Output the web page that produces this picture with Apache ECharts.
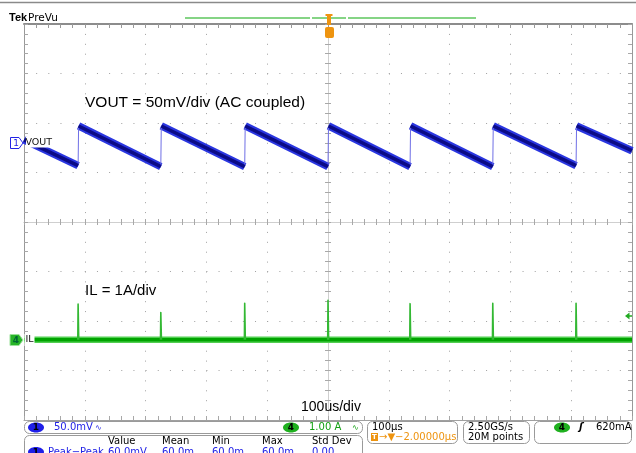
<!DOCTYPE html>
<html><head><meta charset="utf-8">
<script src="https://cdn.jsdelivr.net/npm/echarts@6/dist/echarts.min.js"></script>
<style>html,body{margin:0;padding:0;background:#fff}#c{width:636px;height:453px}</style>
</head><body><div id="c"></div>
<script>
// ---- data (time in µs relative to trigger) ----
const riseTimes  = [-411, -275, -137, 0, 135, 271, 408];   // VOUT step / IL spike times
const voutPeak   = [17, 17, 17, 17, 17, 17, 17];           // mV just after each step
const voutValley = [-23, -24, -24, -24, -24, -24, -23];    // mV just before each step
const voutStart  = 3;     // mV at left edge
const voutEnd    = -8;    // mV at right edge
const ilSpike    = [0.72, 0.55, 0.74, 0.80, 0.73, 0.74, 0.74]; // A
const ilBase     = [0, 0];                                  // A at left / right edge
const timeRange  = [-500, 500];
const ch1Scale = 50, ch1Pos = 1.6;    // mV/div, div offset of ground
const ch4Scale = 1,  ch4Pos = -2.38;  // A/div
const measHeader = ['Value', 'Mean', 'Min', 'Max', 'Std Dev'];
const measRow    = ['60.0mV', '60.0m', '60.0m', '60.0m', '0.00'];

const v = mv => mv / ch1Scale + ch1Pos;
const a = amp => amp / ch4Scale + ch4Pos;

const series = [];
function line(data, color, width, z) {
  series.push({type:'line', data, showSymbol:false, symbol:'none', silent:true,
    xAxisIndex:0, yAxisIndex:0, z,
    lineStyle:{color, width, cap:'butt', join:'round'}});
}
// VOUT ramps
const ramps = [];
ramps.push([[timeRange[0], v(voutStart)], [riseTimes[0], v(voutValley[0])]]);
for (let i = 0; i < riseTimes.length; i++) {
  const last = i === riseTimes.length - 1;
  ramps.push([[riseTimes[i] + 0.8, v(voutPeak[i])],
              [last ? timeRange[1] : riseTimes[i+1], v(last ? voutEnd : voutValley[i+1])]]);
}
ramps.forEach(r => { line(r, '#2a36e0', 7.5, 3); line(r, '#0b0b86', 3.5, 4); });
riseTimes.forEach((t, i) => line([[t, v(voutValley[i])], [t + 0.8, v(voutPeak[i])]], '#6f6fe6', 1, 3));
// IL
const base = [[timeRange[0], a(ilBase[0])], [timeRange[1], a(ilBase[1])]];
line(base, '#52cf52', 6.5, 3); line(base, '#00a400', 3.5, 4);
riseTimes.forEach((t, i) => line([[t - 0.5, a(0)], [t, a(ilSpike[i])], [t + 1, a(0)]], '#33b833', 1.6, 5));

const tickCol = '#a8a8a8';
function xa(extra) {
  return Object.assign({type:'value', min:timeRange[0], max:timeRange[1], interval:100,
    axisLabel:{show:false}, splitLine:{show:false},
    minorTick:{show:true, splitNumber:5, length:3, lineStyle:{color:tickCol}}}, extra);
}
function ya(extra) {
  return Object.assign({type:'value', min:-4, max:4, interval:1,
    axisLabel:{show:false}, splitLine:{show:false},
    minorTick:{show:true, splitNumber:5, length:3, lineStyle:{color:tickCol}}}, extra);
}
const xAxis = [
  xa({position:'bottom', axisLine:{show:true, onZero:true, onZeroAxisIndex:0, lineStyle:{color:'#cfcfcf'}},
      axisTick:{show:true, inside:false, length:3, lineStyle:{color:tickCol}},
      splitLine:{show:true, lineStyle:{color:'#a0a0a0', type:[1, 8.9]}}}),
  xa({position:'bottom', axisLine:{show:true, onZero:true, onZeroAxisIndex:0, lineStyle:{color:'#cfcfcf'}},
      axisTick:{show:true, inside:true, length:3, lineStyle:{color:tickCol}}}),
  xa({position:'top', axisLine:{show:true, onZero:false, lineStyle:{color:'#8c8c8c', width:2}},
      axisTick:{show:true, inside:true, length:4, lineStyle:{color:'#999'}},
      minorTick:{show:true, splitNumber:5, length:4, lineStyle:{color:'#999'}}}),
  xa({position:'bottom', axisLine:{show:true, onZero:false, lineStyle:{color:'#a0a0a0'}},
      axisTick:{show:true, inside:true, length:4, lineStyle:{color:tickCol}},
      minorTick:{show:true, splitNumber:5, length:4, lineStyle:{color:tickCol}}})
];
const yAxis = [
  ya({position:'left', axisLine:{show:true, onZero:true, onZeroAxisIndex:0, lineStyle:{color:'#cfcfcf'}},
      axisTick:{show:true, inside:false, length:3, lineStyle:{color:tickCol}},
      splitLine:{show:true, lineStyle:{color:'#a0a0a0', type:[1, 11.16]}}}),
  ya({position:'left', axisLine:{show:true, onZero:true, onZeroAxisIndex:0, lineStyle:{color:'#cfcfcf'}},
      axisTick:{show:true, inside:true, length:3, lineStyle:{color:tickCol}}}),
  ya({position:'left', axisLine:{show:true, onZero:false, lineStyle:{color:'#999'}},
      axisTick:{show:true, inside:true, length:4, lineStyle:{color:tickCol}},
      minorTick:{show:true, splitNumber:5, length:4, lineStyle:{color:tickCol}}}),
  ya({position:'right', axisLine:{show:true, onZero:false, lineStyle:{color:'#999'}},
      axisTick:{show:true, inside:true, length:4, lineStyle:{color:tickCol}},
      minorTick:{show:true, splitNumber:5, length:4, lineStyle:{color:tickCol}}})
];

const F = 'DejaVu Sans';
const A = 'Liberation Sans';
const blue = '#2323e6', green = '#12a012', orange = '#ee9410';
function txt(x, y, s, font, fill, align) {
  return {type:'text', x, y, z:100, silent:true,
    style:{text:s, font, fill, textAlign:align || 'left', textVerticalAlign:'middle'}};
}
function rrect(x, y, w, h, r, stroke, fill) {
  return {type:'rect', z:90, silent:true, shape:{x, y, width:w, height:h, r},
    style:{stroke, fill:fill || '#fff', lineWidth:1}};
}
function badge(cx, cy, n, fill) {
  return [{type:'ellipse', z:100, silent:true, shape:{cx, cy, rx:8, ry:5}, style:{fill}},
          txt(cx, cy + 0.5, n, 'bold 9px ' + F, '#000', 'center')];
}
const g = [
  {type:'line', z:100, silent:true, shape:{x1:0, y1:2.5, x2:636, y2:2.5}, style:{stroke:'#8a8a8a', lineWidth:1.5}},
  txt(9, 18, 'Tek', 'bold 11px ' + A, '#000'),
  txt(28, 18, 'PreVu', '10.5px ' + F, '#000'),
  {type:'line', z:100, silent:true, shape:{x1:185, y1:18, x2:310, y2:18}, style:{stroke:'#5cc65c', lineWidth:1.5}},
  {type:'line', z:100, silent:true, shape:{x1:312, y1:18, x2:346, y2:18}, style:{stroke:'#5cc65c', lineWidth:1.5}},
  {type:'line', z:100, silent:true, shape:{x1:348, y1:18, x2:476, y2:18}, style:{stroke:'#5cc65c', lineWidth:1.5}},
  {type:'rect', z:101, silent:true, shape:{x:325.5, y:14, width:7, height:2}, style:{fill:orange}},
  {type:'rect', z:101, silent:true, shape:{x:327, y:15, width:4, height:10}, style:{fill:orange}},
  {type:'rect', z:101, silent:true, shape:{x:325, y:27, width:9, height:11, r:2}, style:{fill:orange}},
  txt(329.5, 32.5, 'T', 'bold 8px ' + F, '#ffe0a0', 'center'),
  // channel markers
  {type:'polygon', z:100, silent:true, shape:{points:[[10.5,137.5],[19,137.5],[23,143],[19,148.5],[10.5,148.5]]}, style:{stroke:blue, fill:'#fff', lineWidth:1}},
  txt(16, 143.5, '1', '9px ' + F, blue, 'center'),
  {type:'rect', z:99, silent:true, shape:{x:26, y:137, width:27, height:10.5}, style:{fill:'#fff'}},
  txt(25.5, 143, 'VOUT', '9.5px ' + F, '#111'),
  {type:'polygon', z:100, silent:true, shape:{points:[[10,334.5],[19,334.5],[23,340],[19,345.5],[10,345.5]]}, style:{stroke:'#9be09b', fill:'#27b527', lineWidth:1}},
  txt(16, 340.5, '4', 'bold 9px ' + F, '#063', 'center'),
  {type:'rect', z:99, silent:true, shape:{x:24.5, y:334, width:10, height:12}, style:{fill:'#fff'}},
  txt(25.5, 340, 'IL', '9.5px ' + F, '#111'),
  {type:'polygon', z:100, silent:true, shape:{points:[[625,316],[629.5,312.5],[629.5,319.5]]}, style:{fill:'#22aa22'}},
  {type:'line', z:100, silent:true, shape:{x1:628, y1:316, x2:632, y2:316}, style:{stroke:'#22aa22', lineWidth:1.5}},
  // annotations
  txt(85, 103, 'VOUT = 50mV/div (AC coupled)', '15.5px ' + A, '#000'),
  txt(85, 291, 'IL = 1A/div', '15px ' + A, '#000'),
  txt(331, 407, '100us/div', '14px ' + A, '#000', 'center'),
  // status bar
  rrect(24.5, 421.5, 338, 12, 5, '#9a9a9a'),
  rrect(24.5, 435.5, 338, 30, 5, '#9a9a9a'),
  rrect(367.5, 421.5, 90, 22, 5, '#9a9a9a'),
  rrect(463.5, 421.5, 66, 22, 5, '#9a9a9a'),
  rrect(534.5, 421.5, 97, 22, 5, '#9a9a9a'),
  ...badge(36, 427.5, '1', '#1f1fe8'),
  txt(54, 427.5, '50.0mV', '10px ' + F, blue),
  txt(95, 427.5, '∿', '8px ' + F, blue),
  ...badge(291, 427.5, '4', '#1fb01f'),
  txt(309, 427.5, '1.00 A', '10px ' + F, green),
  txt(352, 427.5, '∿', '8px ' + F, green),
  txt(372, 427.5, '100µs', '10px ' + F, '#000'),
  {type:'rect', z:100, silent:true, shape:{x:371, y:433, width:7, height:8}, style:{fill:orange}},
  txt(374.5, 437.5, 'T', 'bold 7px ' + F, '#fff', 'center'),
  txt(379, 437.5, '→▼−2.00000µs', '10px ' + F, orange),
  txt(468, 427.5, '2.50GS/s', '10px ' + F, '#000'),
  txt(468, 437.5, '20M points', '10px ' + F, '#000'),
  ...badge(562, 427.5, '4', '#1fb01f'),
  txt(579, 427.5, 'ʃ', 'bold italic 10px ' + F, '#000'),
  txt(596, 427.5, '620mA', '10px ' + F, '#000'),
  ...badge(36, 452, '1', '#1f1fe8'),
  txt(48, 452, 'Peak−Peak', '10px ' + F, blue)
];
const cols = [108, 162, 212, 262, 312];
measHeader.forEach((h, i) => g.push(txt(cols[i], 441.5, h, '10px ' + F, '#000')));
measRow.forEach((s, i) => g.push(txt(cols[i], 452, s, '10px ' + F, blue)));

const chart = echarts.init(document.getElementById('c'));
chart.setOption({
  animation:false,
  backgroundColor:'#fff',
  grid:{left:24, top:24, width:608, height:396, containLabel:false},
  xAxis, yAxis, series,
  graphic:{elements:g}
});
</script></body></html>
